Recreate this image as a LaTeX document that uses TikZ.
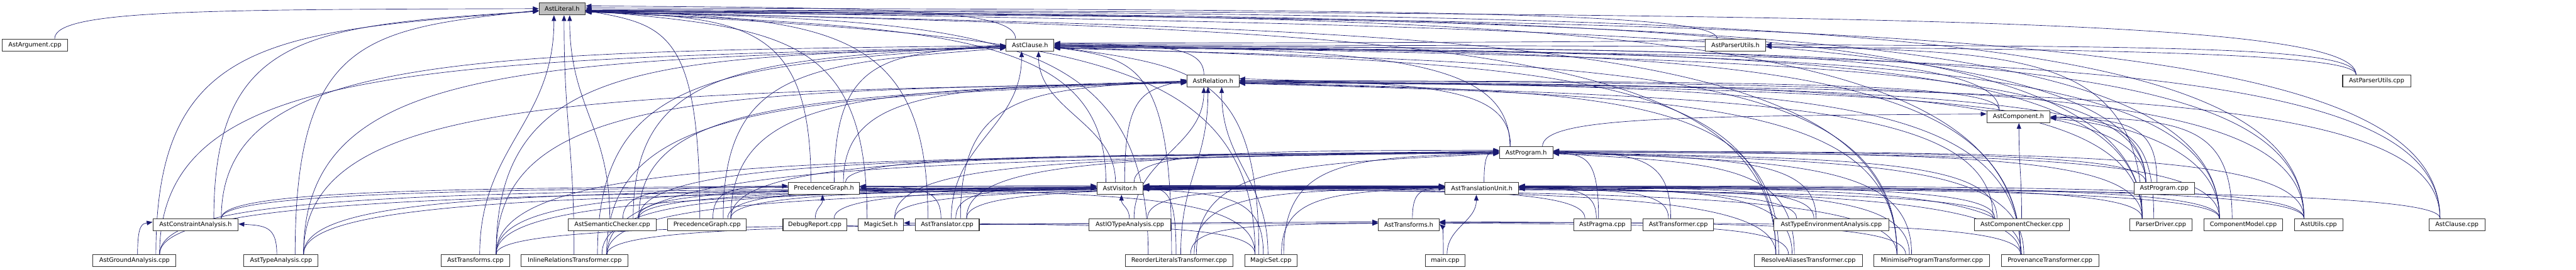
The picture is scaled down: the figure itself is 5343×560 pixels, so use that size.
\documentclass[tikz,border=0pt]{standalone}
\usepackage{fontspec}
\setmainfont{DejaVu Sans}
\usetikzlibrary{arrows.meta}
\definecolor{edgeblue}{HTML}{191970}
\definecolor{litgray}{HTML}{BFBFBF}
\pgfdeclarelayer{bg}
\pgfsetlayers{bg,main}
\tikzset{
  nbox/.style={draw=black!80, line width=1pt, fill=white, inner sep=0pt,
    minimum height=18.75pt, font=\fontsize{9.5}{11}\selectfont},
  depline/.style={draw=edgeblue, line width=0.65pt,
    -{Triangle[length=9pt,width=7pt]}, fill=none}
}
\newdimen\Dcx \newdimen\Dcy \newdimen\Dhw \newdimen\Dpx
\newdimen\Dpc \newdimen\Dpy \newdimen\Dpe \newdimen\Dpw
\newcommand\nd[6]{\node[nbox,minimum width=#4*0.75pt,#6] (#1) at (#2,#3) {#5};}
\newcommand\dep[2]{%
  \pgfextractx{\Dcx}{\pgfpointanchor{#1}{north}}%
  \pgfextracty{\Dcy}{\pgfpointanchor{#1}{north}}%
  \pgfextractx{\Dhw}{\pgfpointanchor{#1}{north east}}%
  \pgfextractx{\Dpx}{\pgfpointanchor{#2}{center}}%
  \pgfextracty{\Dpc}{\pgfpointanchor{#2}{center}}%
  \pgfextracty{\Dpy}{\pgfpointanchor{#2}{south}}%
  \pgfextractx{\Dpe}{\pgfpointanchor{#2}{east}}%
  \pgfextractx{\Dpw}{\pgfpointanchor{#2}{west}}%
  \pgfmathsetmacro\qdx{\Dcx-\Dpx}%
  \pgfmathsetmacro\qdy{\Dpy-\Dcy}%
  \pgfmathsetmacro\qchw{\Dhw-\Dcx}%
  \pgfmathsetmacro\qsx{\Dcx+max(-0.6*\qchw,min(0.6*\qchw,-0.05*\qdx))}%
  \pgfmathsetmacro\qsy{\Dcy}%
  \pgfmathtruncatemacro\qtest{ifthenelse(abs(\qdx)<0.7*\qdy,1,0)}%
  \ifnum\qtest=1
    \pgfmathsetmacro\qphw{\Dpe-\Dpx}%
    \pgfmathsetmacro\qex{\Dpx+max(-0.35*\qphw,min(0.35*\qphw,0.15*\qdx))}%
    \pgfmathsetmacro\qey{\Dpy}%
    \pgfmathsetmacro\qca{\qsy+0.45*\qdy}%
    \pgfmathsetmacro\qcb{\qey-0.45*\qdy}%
    \draw[depline] (\qsx pt,\qsy pt) .. controls (\qsx pt,\qca pt) and (\qex pt,\qcb pt) .. (\qex pt,\qey pt);%
  \else
    \ifdim\qdx pt>0pt \pgfmathsetmacro\qex{\Dpe}\else\pgfmathsetmacro\qex{\Dpw}\fi
    \pgfmathsetmacro\qey{\Dpc+3-7*min(1,\qdy/300)+(mod(abs(\qsx),5)-2)*0.9}%
    \pgfmathsetmacro\qfr{mod(abs(\qsx),7)/7}%
    \pgfmathsetmacro\qda{\qey-(0.04+0.12*\qfr)*\qdy}%
    \pgfmathsetmacro\qdb{\qey-(0.02+0.1*\qfr)*\qdy}%
    \pgfmathsetmacro\qcx{\qsx-0.3*(\qsx-\qex)}%
    \draw[depline] (\qsx pt,\qsy pt) .. controls (\qsx pt,\qda pt) and (\qcx pt,\qdb pt) .. (\qex pt,\qey pt);%
  \fi
}
\begin{document}
\begin{tikzpicture}[x=0.75pt,y=-0.75pt]
\useasboundingbox (0,0) rectangle (5343,560);
\begin{pgfonlayer}{bg}
\fill[white] (0,0) rectangle (5343,560);
\end{pgfonlayer}
% row 0-5
\nd{lit}{1166}{18.5}{96}{AstLiteral.h}{fill=litgray}
\nd{arg}{72.5}{93.5}{135}{AstArgument.cpp}{}
\nd{cla}{2136.5}{93.5}{99}{AstClause.h}{}
\nd{pu}{3599.5}{93.5}{125}{AstParserUtils.h}{}
\nd{rel}{2516}{168}{108}{AstRelation.h}{}
\nd{puc}{4929.5}{168}{141}{AstParserUtils.cpp}{}
\nd{comp}{4186.5}{242.5}{131}{AstComponent.h}{}
\nd{prog}{3165.5}{317.5}{111}{AstProgram.h}{}
\nd{pgh}{1709}{391.5}{148}{PrecedenceGraph.h}{}
\nd{vis}{2323}{391.5}{96}{AstVisitor.h}{}
\nd{tu}{3073.5}{391.5}{153}{AstTranslationUnit.h}{}
\nd{progc}{4489}{391.5}{126}{AstProgram.cpp}{}
% row 6
\nd{ca}{405.5}{466.5}{177}{AstConstraintAnalysis.h}{}
\nd{sc}{1270}{466.5}{182}{AstSemanticChecker.cpp}{}
\nd{pgc}{1466.5}{466.5}{163}{PrecedenceGraph.cpp}{}
\nd{dr}{1690}{466.5}{132}{DebugReport.cpp}{}
\nd{msh}{1827}{466.5}{94}{MagicSet.h}{}
\nd{tr}{1964.5}{466.5}{133}{AstTranslator.cpp}{}
\nd{io}{2343.5}{466.5}{169}{AstIOTypeAnalysis.cpp}{}
\nd{tsh}{2922}{466.5}{126}{AstTransforms.h}{}
\nd{pr}{3323.5}{466.5}{119}{AstPragma.cpp}{}
\nd{tf}{3481}{466.5}{146}{AstTransformer.cpp}{}
\nd{tea}{3798.5}{466.5}{239}{AstTypeEnvironmentAnalysis.cpp}{}
\nd{cc}{4193.5}{466.5}{197}{AstComponentChecker.cpp}{}
\nd{pd}{4482}{466.5}{128}{ParserDriver.cpp}{}
\nd{cm}{4653}{466.5}{164}{ComponentModel.cpp}{}
\nd{ut}{4809.5}{466.5}{101}{AstUtils.cpp}{}
\nd{clc}{5096}{466.5}{116}{AstClause.cpp}{}
% row 7
\nd{ga}{279}{541.5}{172}{AstGroundAnalysis.cpp}{}
\nd{ta}{583}{541.5}{154}{AstTypeAnalysis.cpp}{}
\nd{tsc}{986}{541.5}{142}{AstTransforms.cpp}{}
\nd{irt}{1192}{541.5}{222}{InlineRelationsTransformer.cpp}{}
\nd{rlt}{2445.5}{541.5}{223}{ReorderLiteralsTransformer.cpp}{}
\nd{msc}{2636}{541.5}{108}{MagicSet.cpp}{}
\nd{main}{2997.5}{541.5}{83}{main.cpp}{}
\nd{rat}{3751}{541.5}{224}{ResolveAliasesTransformer.cpp}{}
\nd{mpt}{4007}{541.5}{240}{MinimiseProgramTransformer.cpp}{}
\nd{pvt}{4252}{541.5}{202}{ProvenanceTransformer.cpp}{}
\begin{pgfonlayer}{bg}
\dep{arg}{lit}
\dep{cla}{lit}
\dep{pu}{lit}\dep{pu}{cla}
\dep{rel}{cla}
\dep{puc}{pu}\dep{puc}{cla}\dep{puc}{lit}
\dep{comp}{rel}\dep{comp}{cla}
\dep{prog}{comp}\dep{prog}{rel}\dep{prog}{cla}
\dep{pgh}{prog}\dep{pgh}{rel}\dep{pgh}{cla}\dep{pgh}{lit}
\dep{vis}{prog}\dep{vis}{rel}\dep{vis}{cla}\dep{vis}{lit}
\dep{tu}{prog}
\dep{progc}{prog}\dep{progc}{comp}\dep{progc}{rel}\dep{progc}{cla}\dep{progc}{lit}
\dep{ca}{tu}\dep{ca}{vis}\dep{ca}{cla}\dep{ca}{lit}
\dep{sc}{pgh}\dep{sc}{tu}\dep{sc}{vis}\dep{sc}{prog}\dep{sc}{rel}\dep{sc}{cla}\dep{sc}{lit}
\dep{pgc}{pgh}\dep{pgc}{tu}\dep{pgc}{vis}\dep{pgc}{prog}\dep{pgc}{rel}\dep{pgc}{cla}\dep{pgc}{lit}
\dep{dr}{pgh}\dep{dr}{tu}
\dep{msh}{tu}\dep{msh}{prog}\dep{msh}{lit}
\dep{tr}{pgh}\dep{tr}{tu}\dep{tr}{vis}\dep{tr}{prog}\dep{tr}{rel}\dep{tr}{cla}\dep{tr}{lit}
\dep{io}{tu}\dep{io}{vis}\dep{io}{rel}
\dep{tsh}{tu}
\dep{pr}{prog}\dep{pr}{tu}\dep{pr}{vis}
\dep{tf}{tu}\dep{tf}{prog}
\dep{tea}{tu}\dep{tea}{vis}\dep{tea}{prog}
\dep{cc}{comp}\dep{cc}{tu}\dep{cc}{vis}\dep{cc}{prog}\dep{cc}{rel}
\dep{pd}{pu}\dep{pd}{comp}\dep{pd}{tu}\dep{pd}{prog}\dep{pd}{rel}\dep{pd}{cla}\dep{pd}{lit}
\dep{cm}{comp}\dep{cm}{tu}\dep{cm}{vis}\dep{cm}{prog}\dep{cm}{rel}\dep{cm}{cla}\dep{cm}{lit}
\dep{ut}{tu}\dep{ut}{vis}\dep{ut}{prog}\dep{ut}{rel}\dep{ut}{cla}\dep{ut}{lit}
\dep{clc}{vis}\dep{clc}{cla}\dep{clc}{rel}\dep{clc}{lit}
\dep{ga}{ca}\dep{ga}{tu}\dep{ga}{vis}\dep{ga}{cla}\dep{ga}{lit}
\dep{ta}{ca}\dep{ta}{tu}\dep{ta}{vis}\dep{ta}{rel}\dep{ta}{cla}\dep{ta}{lit}
\dep{tsc}{tsh}\dep{tsc}{tu}\dep{tsc}{vis}\dep{tsc}{prog}\dep{tsc}{rel}\dep{tsc}{cla}\dep{tsc}{lit}
\dep{irt}{tsh}\dep{irt}{tu}\dep{irt}{vis}\dep{irt}{prog}\dep{irt}{rel}\dep{irt}{cla}\dep{irt}{lit}
\dep{rlt}{tsh}\dep{rlt}{tu}\dep{rlt}{vis}\dep{rlt}{prog}\dep{rlt}{rel}\dep{rlt}{cla}\dep{rlt}{lit}
\dep{msc}{msh}\dep{msc}{pgh}\dep{msc}{tu}\dep{msc}{vis}\dep{msc}{prog}\dep{msc}{rel}\dep{msc}{cla}\dep{msc}{lit}
\dep{main}{tsh}\dep{main}{tu}
\dep{rat}{tsh}\dep{rat}{tu}\dep{rat}{vis}\dep{rat}{prog}\dep{rat}{rel}\dep{rat}{cla}\dep{rat}{lit}
\dep{mpt}{tsh}\dep{mpt}{tu}\dep{mpt}{vis}\dep{mpt}{prog}\dep{mpt}{rel}\dep{mpt}{cla}\dep{mpt}{lit}
\dep{pvt}{tsh}\dep{pvt}{tu}\dep{pvt}{vis}\dep{pvt}{prog}\dep{pvt}{rel}\dep{pvt}{cla}\dep{pvt}{lit}
\end{pgfonlayer}
\end{tikzpicture}
\end{document}
